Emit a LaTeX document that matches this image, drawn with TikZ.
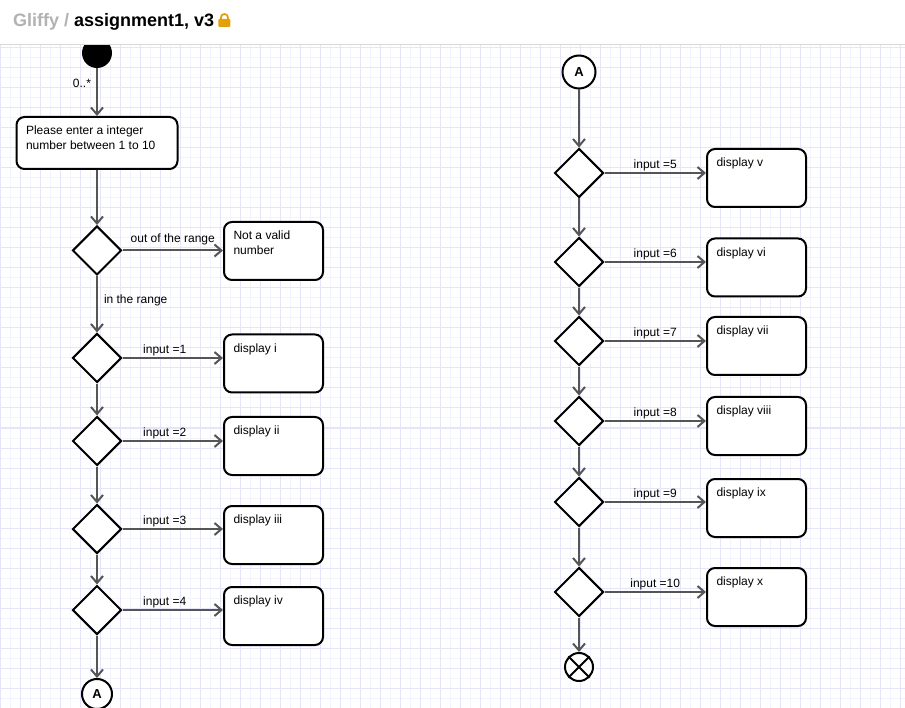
\documentclass[tikz,border=0pt]{standalone}
\usepackage{fontspec}
\setmainfont{Liberation Sans}
\usetikzlibrary{arrows.meta,shapes.geometric}
\definecolor{gridminor}{HTML}{F3F3FC}
\definecolor{gridmajor}{HTML}{E4E4FA}
\definecolor{flowgray}{HTML}{555555}
\definecolor{lockgold}{HTML}{E3A008}
\newcommand{\acttext}[1]{\parbox[c][40pt][t]{80pt}{#1}}

\begin{document}
\begin{tikzpicture}[x=1pt, y=-1pt, font=\fontsize{12}{15}\selectfont,
  act/.style={draw, line width=2pt, rounded corners=8pt, fill=white, inner xsep=9.5pt, inner ysep=9pt},
  dec/.style={diamond, draw, line width=2pt, fill=white, minimum width=49pt, minimum height=49pt, inner sep=0pt},
  conn/.style={circle, draw, line width=2pt, fill=white, inner sep=0pt, font=\fontsize{13}{13}\selectfont\bfseries},
  flow/.style={draw=flowgray, line width=2pt, -{Straight Barb[length=7pt, width=12pt, line width=2pt]}},
  lbl/.style={inner sep=1pt}]
\useasboundingbox (0,0) rectangle (905,708);
\clip (0,0) rectangle (905,708);
% background grid
\foreach \gx in {10,30,...,900} \draw[gridminor, line width=1pt] (\gx,45) -- (\gx,708);
\foreach \gy in {58,78,...,708} \draw[gridminor, line width=1pt] (0,\gy) -- (905,\gy);
\foreach \gx in {0,20,...,900} \draw[gridmajor, line width=1pt] (\gx,45) -- (\gx,708);
\foreach \gy in {48,68,...,708} \draw[gridmajor, line width=1pt] (0,\gy) -- (905,\gy);
% left column
\node[circle, fill=black, minimum size=30pt, inner sep=0pt] (st) at (97,53) {};
\node[act] (ask) at (97,143) {\parbox[c][34pt][t]{142pt}{Please enter a integer\\number between 1 to 10}};
\node[dec] (d0) at (97,250.5) {};
\node[act] (nv) at (273.5,251) {\acttext{Not a valid\\number}};
\node[dec] (d1) at (97,358) {};
\node[act] (b1) at (273.5,363.5) {\acttext{display i}};
\node[dec] (d2) at (97,441) {};
\node[act] (b2) at (273.5,446) {\acttext{display ii}};
\node[dec] (d3) at (97,529) {};
\node[act] (b3) at (273.5,535) {\acttext{display iii}};
\node[dec] (d4) at (97,610) {};
\node[act] (b4) at (273.5,616) {\acttext{display iv}};
\node[conn, minimum size=30pt] (cA) at (97,694) {\raisebox{-1.5pt}{A}};
% right column
\node[conn, minimum size=33pt] (cB) at (579,72) {\raisebox{-2pt}{A}};
\node[dec] (d5) at (579,173) {};
\node[act] (b5) at (756.5,178) {\acttext{display v}};
\node[dec] (d6) at (579,262) {};
\node[act] (b6) at (756.5,267.5) {\acttext{display vi}};
\node[dec] (d7) at (579,341) {};
\node[act] (b7) at (756.5,346) {\acttext{display vii}};
\node[dec] (d8) at (579,421) {};
\node[act] (b8) at (756.5,426) {\acttext{display viii}};
\node[dec] (d9) at (579,502) {};
\node[act] (b9) at (756.5,508) {\acttext{display ix}};
\node[dec] (d10) at (579,592) {};
\node[act] (b10) at (756.5,597) {\acttext{display x}};
\node[circle, draw, line width=2pt, fill=white, minimum size=28pt, inner sep=0pt] (fin) at (579,667) {};
\draw[line width=2pt] (fin.45) -- (fin.225) (fin.135) -- (fin.315);
% connectors
\draw[flow] (st) -- node[lbl, left=4pt, pos=0.32] {0..*} (ask);
\draw[flow] (ask) -- (d0);
\draw[flow] (d0.east) -- node[lbl, above=4pt] {out of the range} (d0.east -| nv.west);
\draw[flow] (d0) -- node[lbl, right=5pt, pos=0.44] {in the range} (d1);
\draw[flow] (d1.east) -- node[lbl, above, pos=0.42] {input =1} (d1.east -| b1.west);
\draw[flow] (d1) -- (d2);
\draw[flow] (d2.east) -- node[lbl, above, pos=0.42] {input =2} (d2.east -| b2.west);
\draw[flow] (d2) -- (d3);
\draw[flow] (d3.east) -- node[lbl, above, pos=0.42] {input =3} (d3.east -| b3.west);
\draw[flow] (d3) -- (d4);
\draw[flow] (d4.east) -- node[lbl, above, pos=0.42] {input =4} (d4.east -| b4.west);
\draw[flow] (d4) -- (cA);
\draw[flow] (cB) -- (d5);
\draw[flow] (d5.east) -- node[lbl, above] {input =5} (d5.east -| b5.west);
\draw[flow] (d5) -- (d6);
\draw[flow] (d6.east) -- node[lbl, above] {input =6} (d6.east -| b6.west);
\draw[flow] (d6) -- (d7);
\draw[flow] (d7.east) -- node[lbl, above] {input =7} (d7.east -| b7.west);
\draw[flow] (d7) -- (d8);
\draw[flow] (d8.east) -- node[lbl, above] {input =8} (d8.east -| b8.west);
\draw[flow] (d8) -- (d9);
\draw[flow] (d9.east) -- node[lbl, above] {input =9} (d9.east -| b9.west);
\draw[flow] (d9) -- (d10);
\draw[flow] (d10.east) -- node[lbl, above] {input =10} (d10.east -| b10.west);
\draw[flow] (d10) -- (fin);
% header bar
\fill[white] (0,0) rectangle (905,44);
\draw[black!15, line width=1.5pt] (0,44.5) -- (905,44.5);
\node[anchor=base west, inner sep=0pt, font=\fontsize{18}{18}\selectfont\bfseries] (title) at (13,27) {\textcolor{black!30}{Gliffy /} assignment1, v3};
\fill[lockgold, rounded corners=1pt] ([xshift=4pt]title.base east) rectangle ++(12,-8);
\draw[lockgold, line width=1.8pt] ([xshift=6.5pt,yshift=7pt]title.base east) -- ++(0,-2.5) arc[start angle=180, end angle=360, radius=3.5] -- ++(0,2.5);
\end{tikzpicture}
\end{document}
